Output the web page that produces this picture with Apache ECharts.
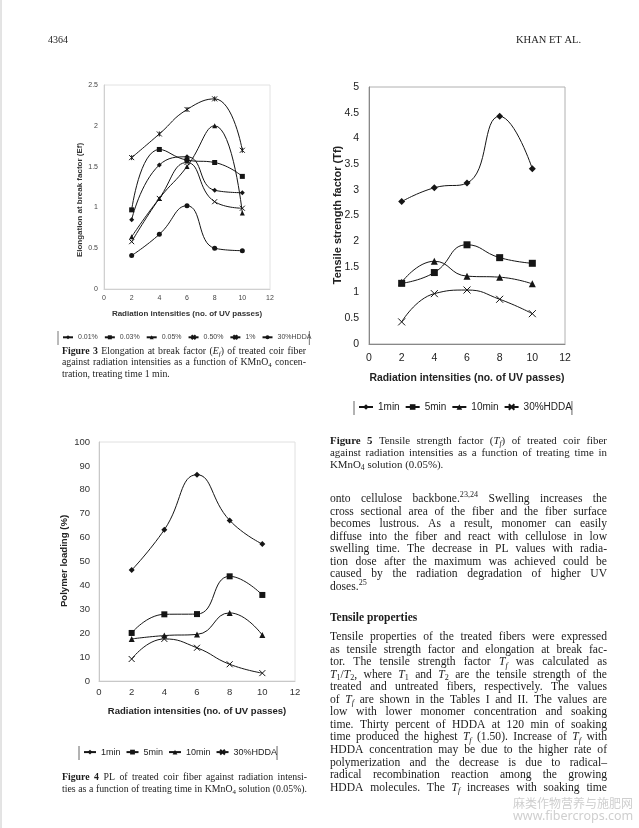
<!DOCTYPE html>
<html>
<head>
<meta charset="utf-8">
<script src="https://cdn.jsdelivr.net/npm/echarts@6/dist/echarts.min.js"></script>
<style>
html,body{margin:0;padding:0;background:#fff;}
#c{width:639px;height:828px;}
</style>
</head>
<body>
<div id="c"></div>
<script>
// ---------------- DATA ----------------
const xPasses = [2, 4, 6, 8, 10];

// Figure 3: elongation at break factor (Ef), KMnO4 concentrations, 1 min
const fig3Names = ['0.01%', '0.03%', '0.05%', '0.50%', '1%', '30%HDDA'];
const ef001 = [0.85, 1.52, 1.62, 1.21, 1.18];
const ef003 = [0.97, 1.71, 1.58, 1.55, 1.38];
const ef005 = [0.64, 1.11, 1.50, 2.00, 0.93];
const ef050 = [0.58, 1.11, 1.55, 1.07, 0.99];
const ef1   = [1.61, 1.90, 2.20, 2.33, 1.70];
const efHDDA = [0.41, 0.67, 1.02, 0.50, 0.47];

// Figure 5: tensile strength factor (Tf) vs treating time
const timeNames = ['1min', '5min', '10min', '30%HDDA'];
const tf1min  = [2.77, 3.04, 3.13, 4.43, 3.41];
const tf5min  = [1.18, 1.39, 1.93, 1.68, 1.57];
const tf10min = [1.20, 1.61, 1.32, 1.30, 1.17];
const tfHDDA  = [0.43, 0.98, 1.05, 0.87, 0.59];

// Figure 4: polymer loading (%) vs treating time
const pl1min  = [46.4, 63.3, 86.3, 67.2, 57.3];
const pl5min  = [20.1, 27.9, 28.0, 43.8, 36.0];
const pl10min = [17.6, 19.0, 19.5, 28.5, 19.2];
const plHDDA  = [9.2, 17.6, 13.9, 7.0, 3.3];

// ---------------- TEXTS ----------------
const headerLeft = '4364';
const headerRight = 'KHAN ET AL.';
const fig3YTitle = 'Elongation at break factor (Ef)';
const fig5YTitle = 'Tensile strength factor (Tf)';
const fig4YTitle = 'Polymer loading (%)';
const xTitle = 'Radiation intensities (no. of UV passes)';

const cap3 = [
  '{b|Figure} {b|3}  Elongation at break factor ({i|E}{si|f}) of treated coir fiber',
  'against radiation intensities as a function of KMnO{sub|4} concen-',
  'tration, treating time 1 min.¶'
];
const cap5 = [
  '{b|Figure} {b|5}  Tensile strength factor ({i|T}{si|f}) of treated coir fiber',
  'against radiation intensities as a function of treating time in',
  'KMnO{sub|4} solution (0.05%).¶'
];
const cap4 = [
  '{b|Figure} {b|4}  PL of treated coir fiber against radiation intensi-',
  'ties as a function of treating time in KMnO{sub|4} solution (0.05%).'
];
const body1 = [
  'onto cellulose backbone.{sup|23,24} Swelling increases the',
  'cross sectional area of the fiber and the fiber surface',
  'becomes lustrous. As a result, monomer can easily',
  'diffuse into the fiber and react with cellulose in low',
  'swelling time. The decrease in PL values with radia-',
  'tion dose after the maximum was achieved could be',
  'caused by the radiation degradation of higher UV',
  'doses.{sup|25}¶'
];
const heading = 'Tensile properties';
const body2 = [
  'Tensile properties of the treated fibers were expressed',
  'as tensile strength factor and elongation at break fac-',
  'tor. The tensile strength factor {i|T}{si|f} was calculated as',
  '{i|T}{sub|1}/{i|T}{sub|2}, where {i|T}{sub|1} and {i|T}{sub|2} are the tensile strength of the',
  'treated and untreated fibers, respectively. The values',
  'of {i|T}{si|f} are shown in the Tables I and II. The values are',
  'low with lower monomer concentration and soaking',
  'time. Thirty percent of HDDA at 120 min of soaking',
  'time produced the highest {i|T}{si|f} (1.50). Increase of {i|T}{si|f} with',
  'HDDA concentration may be due to the higher rate of',
  'polymerization and the decrease is due to radical\u2013',
  'radical recombination reaction among the growing',
  'HDDA molecules. The {i|T}{si|f} increases with soaking time'
];
const watermark1 = '麻类作物营养与施肥网';
const watermark2 = 'www.fibercrops.com';

// ---------------- HELPERS ----------------
const SERIF = '"Liberation Serif", "Times New Roman", serif';
const SANS = '"Liberation Sans", Arial, sans-serif';
const INK = '#1c1c1c';
const ctx = document.createElement('canvas').getContext('2d');

function segStyle(st, base) {
  const s = {size: base, weight: 'normal', style: 'normal', dy: 0};
  if (st === 'b') s.weight = 'bold';
  if (st === 'i') s.style = 'italic';
  if (st === 'si') { s.style = 'italic'; s.size = base * 0.7; s.dy = base * 0.3; }
  if (st === 'sub') { s.size = base * 0.7; s.dy = base * 0.3; }
  if (st === 'sup') { s.size = base * 0.7; s.dy = -base * 0.35; }
  return s;
}
function parseWord(w) {
  const re = /\{(\w+)\|([^}]*)\}|([^{]+)/g;
  const out = []; let m;
  while ((m = re.exec(w)) !== null) {
    if (m[3] !== undefined) out.push({t: m[3], st: 'n'});
    else out.push({t: m[2], st: m[1]});
  }
  return out;
}
function measure(seg, base) {
  const s = segStyle(seg.st, base);
  ctx.font = s.style + ' ' + s.weight + ' ' + s.size + 'px ' + SERIF;
  return ctx.measureText(seg.t).width;
}
function textBlock(lines, x0, width, y0, lh, base, out) {
  ctx.font = base + 'px ' + SERIF;
  const spaceW = ctx.measureText(' ').width;
  lines.forEach((raw, li) => {
    let justify = true, line = raw;
    if (line.endsWith('¶')) { justify = false; line = line.slice(0, -1); }
    const words = line.split(/ +/).filter(w => w.length).map(w => {
      const segs = parseWord(w);
      segs.forEach(sg => sg.w = measure(sg, base));
      return {segs, w: segs.reduce((a, b) => a + b.w, 0)};
    });
    const total = words.reduce((a, b) => a + b.w, 0);
    let gap = spaceW;
    if (justify && words.length > 1) gap = Math.max(spaceW * 0.55, (width - total) / (words.length - 1));
    let x = x0;
    const y = y0 + li * lh;
    words.forEach(wd => {
      let xx = x;
      wd.segs.forEach(sg => {
        const s = segStyle(sg.st, base);
        out.push({
          type: 'text', x: xx, y: y + s.dy, silent: true,
          style: {text: sg.t, fontSize: s.size, fontFamily: SERIF, fontWeight: s.weight,
                  fontStyle: s.style, fill: INK, align: 'left', verticalAlign: 'middle'}
        });
        xx += sg.w;
      });
      x += wd.w + gap;
    });
  });
}
function simpleText(text, x, y, size, opts) {
  opts = opts || {};
  return {
    type: 'text', x, y, rotation: opts.rot || 0, silent: true,
    style: {text, fontSize: size, fontFamily: opts.family || SANS, fontWeight: opts.weight || 'normal',
            fill: opts.color || '#222', align: opts.align || 'left', verticalAlign: 'middle'}
  };
}
function vbar(x, y1, y2, color) {
  return {type: 'line', silent: true, shape: {x1: x, y1, x2: x, y2}, style: {stroke: color || '#666', lineWidth: 1}};
}

const XSYM = 'path://M0,0L10,10M10,0L0,10';
const STARSYM = 'path://M0,0L10,10M10,0L0,10M5,0L5,10';
const LINEC = '#151515';
function mk(name, vals, symbol, g, size) {
  const isPath = symbol.indexOf('path://') === 0;
  return {
    type: 'line', name, xAxisIndex: g, yAxisIndex: g,
    data: xPasses.map((x, i) => [x, vals[i]]),
    smooth: 0.5, symbol, symbolSize: size,
    lineStyle: {color: LINEC, width: 1},
    itemStyle: {color: LINEC, borderColor: LINEC, borderWidth: isPath ? 1 : 0},
    emphasis: {disabled: true}
  };
}

// legend builder: computes its own width so the side bars frame it
const graphics = [];
const fmt = n => n.split('|')[1];
function legendCfg(prefix, names, left, cy, fs, iw, ih, gap, color, barColor) {
  ctx.font = fs + 'px ' + SANS;
  let w = 0;
  names.forEach((n, i) => { w += iw + 5 + ctx.measureText(n).width + (i ? gap : 0); });
  graphics.push(vbar(left - 4, cy - 7, cy + 7, barColor));
  graphics.push(vbar(left + w + 4, cy - 7, cy + 7, barColor));
  const rowH = Math.max(ih, fs * 1.2);
  return {
    left, top: cy - rowH / 2, padding: 0, itemWidth: iw, itemHeight: ih, itemGap: gap,
    data: names.map(n => prefix + '|' + n), formatter: fmt,
    textStyle: {fontSize: fs, color, fontFamily: SANS}, selectedMode: false
  };
}

// ---------------- CHART ----------------
graphics.push(simpleText(headerLeft, 48, 40, 10, {family: SERIF, color: INK}));
graphics.push(simpleText(headerRight, 581, 40, 10.5, {family: SERIF, color: INK, align: 'right'}));
graphics.push(vbar(1, 0, 828, '#c8c8c8'));

// axis titles
graphics.push(simpleText(fig3YTitle, 80, 200, 8, {weight: 'bold', rot: Math.PI / 2, align: 'center', color: '#333'}));
graphics.push(simpleText(xTitle, 187, 314, 8, {weight: 'bold', align: 'center', color: '#333'}));
graphics.push(simpleText(fig5YTitle, 338, 215, 11, {weight: 'bold', rot: Math.PI / 2, align: 'center'}));
graphics.push(simpleText(xTitle, 467, 378, 10.4, {weight: 'bold', align: 'center'}));
graphics.push(simpleText(fig4YTitle, 64, 561, 9.6, {weight: 'bold', rot: Math.PI / 2, align: 'center'}));
graphics.push(simpleText(xTitle, 197, 711, 9.5, {weight: 'bold', align: 'center'}));

const legends = [
  legendCfg('f3', fig3Names, 62, 338, 7, 10, 5, 6, '#444', '#777'),
  legendCfg('f5', timeNames, 358, 408, 10, 14, 7, 5, '#222', '#666'),
  legendCfg('f4', timeNames, 83, 753, 9, 12, 6, 5, '#222', '#666')
];

// captions & body
textBlock(cap3, 62, 244, 351, 11.5, 9.8, graphics);
textBlock(cap5, 330, 277, 441, 12, 10.9, graphics);
textBlock(cap4, 62, 245, 777, 12, 9.8, graphics);
textBlock(body1, 330, 277, 499, 12.5, 11.6, graphics);
graphics.push(simpleText(heading, 330, 618, 11.5, {family: SERIF, weight: 'bold', color: INK}));
textBlock(body2, 330, 277, 637, 12.55, 11.6, graphics);

graphics.push(simpleText(watermark1, 513, 803, 12, {family: '"Noto Sans CJK SC", sans-serif', color: '#cfcfcf'}));
graphics.push(simpleText(watermark2, 513, 816, 12.5, {family: '"Noto Sans", sans-serif', color: '#cfcfcf'}));

function xAxisCfg(g, fs, margin, lineColor, labelColor) {
  return {
    gridIndex: g, type: 'value', min: 0, max: 12, interval: 2,
    axisLine: {show: true, lineStyle: {color: lineColor, width: 1}},
    axisTick: {show: false}, splitLine: {show: false},
    axisLabel: {fontSize: fs, color: labelColor, margin, fontFamily: SANS}
  };
}
function yAxisCfg(g, max, interval, fs, margin, lineColor, labelColor) {
  return {
    gridIndex: g, type: 'value', min: 0, max, interval,
    axisLine: {show: true, lineStyle: {color: lineColor, width: 1}},
    axisTick: {show: false}, splitLine: {show: false},
    axisLabel: {fontSize: fs, color: labelColor, margin, fontFamily: SANS}
  };
}

const option = {
  backgroundColor: '#ffffff',
  animation: false,
  grid: [
    {left: 104, top: 85, width: 166, height: 204, show: true, borderColor: '#e2e2e2', borderWidth: 1, backgroundColor: 'transparent'},
    {left: 369, top: 87, width: 196, height: 257, show: true, borderColor: '#b0b0b0', borderWidth: 1, backgroundColor: 'transparent'},
    {left: 99, top: 442, width: 196, height: 239, show: true, borderColor: '#e0e0e0', borderWidth: 1, backgroundColor: 'transparent'}
  ],
  xAxis: [
    xAxisCfg(0, 7, 6, '#d0d0d0', '#444'),
    xAxisCfg(1, 10.5, 9, '#888', '#222'),
    xAxisCfg(2, 9.5, 6, '#c8c8c8', '#333')
  ],
  yAxis: [
    yAxisCfg(0, 2.5, 0.5, 7, 6, '#d0d0d0', '#444'),
    yAxisCfg(1, 5, 0.5, 10.5, 10, '#888', '#222'),
    yAxisCfg(2, 100, 10, 9.5, 9, '#c8c8c8', '#333')
  ],
  legend: legends,
  series: [
    mk('f3|0.01%', ef001, 'diamond', 0, 5),
    mk('f3|0.03%', ef003, 'rect', 0, 5),
    mk('f3|0.05%', ef005, 'triangle', 0, 5),
    mk('f3|0.50%', ef050, XSYM, 0, 5),
    mk('f3|1%', ef1, STARSYM, 0, 5),
    mk('f3|30%HDDA', efHDDA, 'circle', 0, 5),

    mk('f5|1min', tf1min, 'diamond', 1, 7),
    mk('f5|5min', tf5min, 'rect', 1, 7),
    mk('f5|10min', tf10min, 'triangle', 1, 7),
    mk('f5|30%HDDA', tfHDDA, XSYM, 1, 7),

    mk('f4|1min', pl1min, 'diamond', 2, 6),
    mk('f4|5min', pl5min, 'rect', 2, 6),
    mk('f4|10min', pl10min, 'triangle', 2, 6),
    mk('f4|30%HDDA', plHDDA, XSYM, 2, 6)
  ],
  graphic: graphics
};

const chart = echarts.init(document.getElementById('c'), null, {renderer: 'canvas'});
chart.setOption(option);
</script>
</body>
</html>
